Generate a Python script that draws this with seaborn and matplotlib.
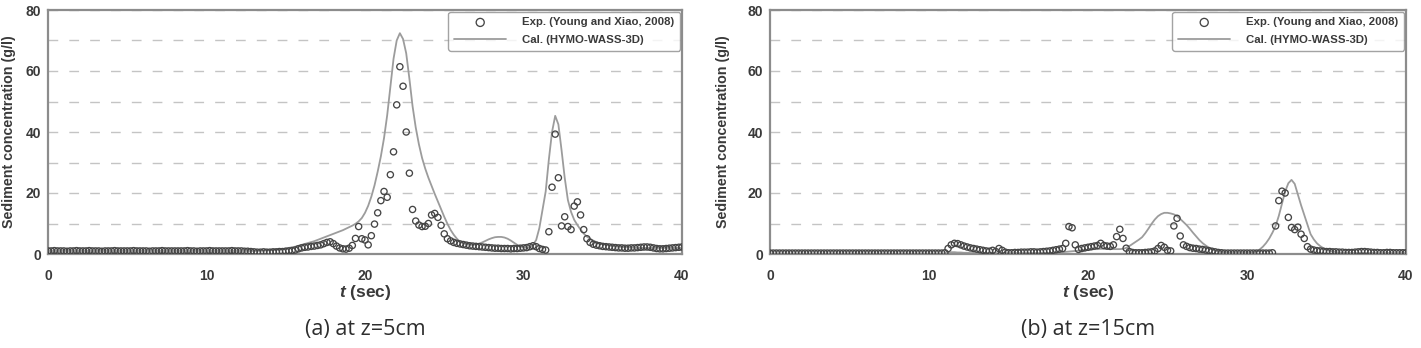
import numpy as np
import pandas as pd
import matplotlib
matplotlib.use('Agg')
import matplotlib.pyplot as plt
import seaborn as sns

# time base of the records (s)
t_sec = np.round(np.arange(0, 40.01, 0.2), 1)

# (a) z = 5 cm
exp_a = [1.0, 1.0, 1.1, 1.0, 1.0, 1.0, 0.9, 1.0, 1.0, 1.1,
         1.0, 1.0, 1.0, 1.1, 1.0, 1.0, 1.0, 0.9, 1.0, 1.0,
         1.0, 1.1, 1.0, 1.0, 1.0, 1.0, 1.0, 1.1, 1.0, 1.0,
         1.0, 1.0, 0.9, 1.0, 1.0, 1.0, 1.1, 1.0, 1.0, 1.0,
         1.0, 1.0, 1.0, 1.0, 1.1, 1.0, 1.0, 0.9, 1.0, 1.0,
         1.0, 1.1, 1.0, 1.0, 1.0, 1.0, 1.0, 1.0, 1.1, 1.0,
         1.0, 1.0, 0.9, 0.9, 0.8, 0.7, 0.6, 0.6, 0.7, 0.6,
         0.6, 0.7, 0.7, 0.8, 0.8, 0.9, 1.0, 1.1, 1.3, 1.7,
         2.0, 2.2, 2.3, 2.5, 2.6, 2.8, 3.0, 3.4, 3.8, 4.0,
         3.4, 2.6, 2.0, 1.7, 1.6, 1.9, 2.8, 5.1, 9.0, 5.0,
         4.6, 3.0, 6.0, 9.8, 13.5, 17.5, 20.5, 18.6, 26.0, 33.5,
         48.9, 61.4, 55.0, 40.0, 26.5, 14.6, 10.8, 9.5, 9.0, 9.1,
         10.0, 12.8, 13.3, 12.0, 9.4, 6.6, 5.0, 4.3, 3.8, 3.5,
         3.3, 3.1, 2.9, 2.7, 2.6, 2.5, 2.4, 2.3, 2.2, 2.1,
         2.0, 1.9, 1.9, 1.8, 1.8, 1.8, 1.7, 1.8, 1.8, 1.9,
         2.0, 2.1, 2.4, 2.7, 2.4, 1.8, 1.5, 1.3, 7.3, 21.9,
         39.3, 25.0, 9.2, 12.2, 9.0, 8.0, 15.7, 17.1, 12.8, 8.0,
         5.0, 3.8, 3.2, 2.9, 2.7, 2.5, 2.4, 2.3, 2.2, 2.1,
         2.0, 2.0, 1.9, 1.9, 2.0, 2.0, 2.1, 2.2, 2.3, 2.3,
         2.2, 2.0, 1.8, 1.7, 1.7, 1.8, 1.9, 2.0, 2.1, 2.2,
         2.3]
cal_a = [1.0, 1.0, 1.0, 1.0, 1.0, 1.0, 1.0, 1.0, 1.0, 1.0,
         1.0, 1.0, 1.0, 1.0, 1.0, 1.0, 1.0, 1.0, 1.0, 1.0,
         1.0, 1.0, 1.0, 1.0, 1.0, 1.0, 1.0, 1.0, 1.0, 1.0,
         1.0, 1.0, 1.0, 1.0, 1.0, 1.0, 1.0, 1.0, 1.0, 1.0,
         1.0, 1.0, 1.0, 1.0, 1.0, 1.0, 1.0, 1.0, 1.0, 1.0,
         1.0, 1.0, 1.0, 1.0, 1.0, 1.0, 1.0, 1.0, 1.0, 1.0,
         1.0, 1.0, 1.0, 1.0, 1.0, 1.0, 1.0, 1.1, 1.1, 1.2,
         1.2, 1.3, 1.4, 1.5, 1.6, 1.8, 2.0, 2.2, 2.4, 2.7,
         3.0, 3.3, 3.6, 3.9, 4.2, 4.6, 5.0, 5.4, 5.8, 6.2,
         6.6, 7.0, 7.4, 7.8, 8.3, 8.8, 9.3, 9.9, 10.7, 11.8,
         13.5, 15.8, 18.8, 22.5, 27.0, 32.0, 38.0, 45.5, 54.9, 64.0,
         70.0, 72.4, 70.5, 65.8, 57.5, 48.5, 41.5, 36.0, 31.5, 28.0,
         25.0, 22.3, 19.7, 17.2, 14.7, 12.2, 9.9, 7.9, 6.3, 5.0,
         4.0, 3.5, 3.2, 3.0, 3.0, 3.1, 3.4, 3.8, 4.3, 4.8,
         5.2, 5.5, 5.6, 5.6, 5.4, 5.0, 4.4, 3.7, 3.0, 2.5,
         2.2, 2.1, 2.3, 3.0, 4.6, 8.5, 14.5, 20.5, 31.0, 40.0,
         45.3, 42.5, 34.1, 25.0, 17.7, 13.8, 11.2, 9.5, 8.0, 6.7,
         5.7, 5.0, 4.4, 3.9, 3.5, 3.2, 3.0, 2.8, 2.6, 2.5,
         2.4, 2.3, 2.2, 2.2, 2.1, 2.1, 2.0, 2.0, 2.0, 2.0,
         2.0, 2.0, 2.0, 2.0, 2.0, 2.0, 2.0, 2.0, 2.0, 2.0,
         2.0]

# (b) z = 15 cm
exp_b = [0.3, 0.3, 0.3, 0.3, 0.3, 0.3, 0.3, 0.3, 0.3, 0.3,
         0.3, 0.3, 0.3, 0.3, 0.3, 0.3, 0.3, 0.3, 0.3, 0.3,
         0.3, 0.3, 0.3, 0.3, 0.3, 0.3, 0.3, 0.3, 0.3, 0.3,
         0.3, 0.3, 0.3, 0.3, 0.3, 0.3, 0.3, 0.3, 0.3, 0.3,
         0.3, 0.3, 0.3, 0.3, 0.3, 0.3, 0.3, 0.3, 0.3, 0.3,
         0.3, 0.3, 0.3, 0.3, 0.3, 0.4, 1.8, 3.0, 3.5, 3.4,
         3.0, 2.6, 2.3, 2.0, 1.8, 1.6, 1.4, 1.2, 1.0, 0.9,
         1.2, 0.8, 1.8, 1.2, 0.6, 0.4, 0.4, 0.5, 0.5, 0.6,
         0.6, 0.6, 0.7, 0.7, 0.6, 0.7, 0.8, 0.9, 1.0, 1.2,
         1.4, 1.6, 1.8, 3.5, 9.0, 8.6, 3.0, 1.5, 1.8, 2.0,
         2.2, 2.4, 2.6, 2.8, 3.5, 2.8, 2.6, 2.5, 3.0, 5.7,
         8.1, 5.1, 1.9, 0.8, 0.5, 0.4, 0.4, 0.4, 0.5, 0.6,
         0.7, 1.0, 1.8, 2.8, 2.2, 1.2, 1.0, 9.2, 11.7, 5.9,
         3.0, 2.5, 2.1, 1.9, 1.8, 1.6, 1.5, 1.3, 1.1, 0.9,
         0.7, 0.5, 0.4, 0.3, 0.3, 0.3, 0.3, 0.3, 0.3, 0.3,
         0.3, 0.3, 0.3, 0.3, 0.3, 0.3, 0.3, 0.3, 0.4, 9.2,
         17.5, 20.6, 20.0, 12.0, 8.7, 8.0, 8.8, 6.5, 5.1, 2.4,
         1.6, 1.3, 1.1, 1.0, 0.9, 0.8, 0.8, 0.7, 0.7, 0.6,
         0.6, 0.5, 0.5, 0.5, 0.6, 0.7, 0.8, 0.8, 0.7, 0.6,
         0.5, 0.5, 0.4, 0.4, 0.5, 0.5, 0.4, 0.4, 0.4, 0.4,
         0.4]
cal_b = [0.1, 0.1, 0.1, 0.1, 0.1, 0.1, 0.1, 0.1, 0.1, 0.1,
         0.1, 0.1, 0.1, 0.1, 0.1, 0.1, 0.1, 0.1, 0.1, 0.1,
         0.1, 0.1, 0.1, 0.1, 0.1, 0.1, 0.1, 0.1, 0.1, 0.1,
         0.1, 0.1, 0.1, 0.1, 0.1, 0.1, 0.1, 0.1, 0.1, 0.1,
         0.1, 0.1, 0.1, 0.1, 0.1, 0.1, 0.1, 0.1, 0.1, 0.1,
         0.1, 0.1, 0.1, 0.1, 0.1, 0.2, 0.4, 0.6, 0.6, 0.5,
         0.5, 0.4, 0.4, 0.3, 0.3, 0.3, 0.3, 0.3, 0.3, 0.3,
         0.3, 0.3, 0.3, 0.3, 0.3, 0.3, 0.3, 0.3, 0.3, 0.3,
         0.3, 0.3, 0.3, 0.3, 0.3, 0.3, 0.3, 0.3, 0.3, 0.3,
         0.4, 0.5, 0.6, 0.7, 0.8, 0.9, 1.0, 1.1, 1.2, 1.3,
         1.4, 1.5, 1.6, 1.6, 1.7, 1.7, 1.7, 1.7, 1.6, 1.6,
         1.6, 1.7, 2.0, 2.6, 3.3, 4.0, 4.7, 5.5, 6.8, 8.3,
         9.9, 11.3, 12.4, 13.1, 13.5, 13.5, 13.3, 13.0, 12.4, 11.5,
         10.5, 9.5, 8.3, 7.0, 5.8, 4.6, 3.6, 2.8, 2.1, 1.5,
         1.1, 0.8, 0.6, 0.5, 0.4, 0.3, 0.3, 0.3, 0.3, 0.3,
         0.3, 0.3, 0.4, 0.8, 1.5, 2.4, 3.6, 5.1, 7.0, 9.2,
         12.5, 16.5, 20.5, 23.2, 24.3, 23.0, 19.5, 16.0, 12.8, 9.5,
         6.5, 4.8, 3.5, 2.6, 1.9, 1.4, 1.0, 0.8, 0.6, 0.5,
         0.4, 0.4, 0.3, 0.3, 0.3, 0.3, 0.3, 0.3, 0.3, 0.3,
         0.3, 0.3, 0.3, 0.3, 0.3, 0.3, 0.3, 0.3, 0.3, 0.3,
         0.3]

captions = ['(a) at z=5cm', '(b) at z=15cm']
exp_label = 'Exp. (Young and Xiao, 2008)'
cal_label = 'Cal. (HYMO-WASS-3D)'

sns.set_style('white')
plt.rcParams['font.family'] = ['Liberation Sans', 'DejaVu Sans']
plt.rcParams['mathtext.fontset'] = 'custom'
plt.rcParams['mathtext.it'] = 'Liberation Sans:italic:bold'

fig = plt.figure(figsize=(14.21, 3.48), dpi=100)
ax_a = fig.add_axes([48 / 1421, 1 - 254 / 348, 634 / 1421, 244 / 348])
ax_b = fig.add_axes([770 / 1421, 1 - 254 / 348, 636 / 1421, 244 / 348])

txt = '#3a3a3a'
panels = [(ax_a, exp_a, cal_a, captions[0], -0.051),
          (ax_b, exp_b, cal_b, captions[1], -0.063)]
for ax, ev, cv, cap, ylab_x in panels:
    df = pd.DataFrame({'t': t_sec, 'exp': ev, 'cal': cv})
    sns.lineplot(data=df, x='t', y='cal', ax=ax, color='#9c9c9c', lw=1.3,
                 label=cal_label, zorder=2)
    sns.scatterplot(data=df, x='t', y='exp', ax=ax, marker='o', s=20,
                    facecolor='none', edgecolor='#454545', linewidth=0.95,
                    label=exp_label, zorder=3)

    ax.set_xlim(0, 40)
    ax.set_ylim(0, 80)
    ax.set_xticks([0, 10, 20, 30, 40])
    ax.set_yticks([0, 20, 40, 60, 80])
    ax.set_yticks([10, 30, 50, 70], minor=True)
    ax.grid(True, axis='y', which='both', color='#c4c4c4', lw=1.0,
            linestyle=(0, (7, 8)))
    ax.tick_params(axis='both', length=0, labelsize=10, labelcolor=txt)
    ax.tick_params(axis='x', pad=11)
    ax.tick_params(axis='y', pad=5)
    for lab in ax.get_xticklabels() + ax.get_yticklabels():
        lab.set_fontweight('bold')
    for sp in ax.spines.values():
        sp.set_color('#8c8c8c')
        sp.set_linewidth(1.6)

    ax.set_xlabel(r'$t$ (sec)', fontsize=12.5, fontweight='bold', color=txt, labelpad=0)
    ax.set_ylabel('Sediment concentration (g/l)', fontsize=10.3, fontweight='bold',
                  color=txt)
    ax.yaxis.set_label_coords(ylab_x, 0.5)

    h, l = ax.get_legend_handles_labels()
    order = [l.index(exp_label), l.index(cal_label)]
    leg = ax.legend([h[i] for i in order], [l[i] for i in order], loc='upper right',
                    bbox_to_anchor=(1.0, 1.0), borderaxespad=0.15,
                    prop={'weight': 'bold', 'size': 8.2}, markerscale=1.3,
                    handlelength=4.6, handletextpad=1.4, labelspacing=0.65,
                    borderpad=0.5, fancybox=True, frameon=True)
    leg.get_frame().set_edgecolor('#8c8c8c')
    leg.get_frame().set_linewidth(1.0)
    for tx in leg.get_texts():
        tx.set_color(txt)

    pos = ax.get_position()
    fig.text(pos.x0 + pos.width / 2, 1 - 330 / 348, cap, ha='center', va='center',
             fontsize=15.5, color='#2e2e2e', family=['Open Sans', 'DejaVu Sans'])

fig.savefig('out.png', dpi=100)
